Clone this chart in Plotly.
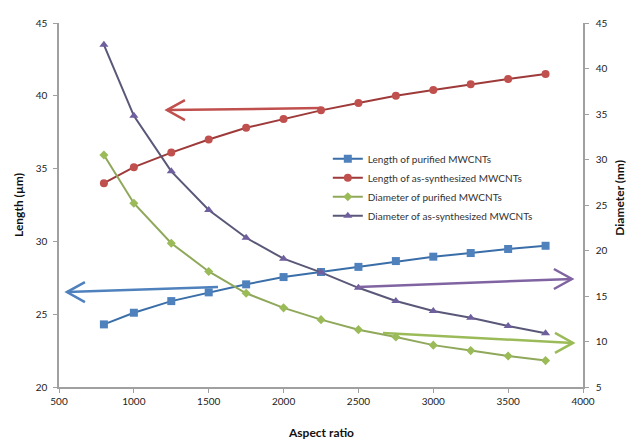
import plotly.graph_objects as go

aspect_ratio = [800, 1000, 1250, 1500, 1750, 2000, 2250, 2500, 2750, 3000, 3250, 3500, 3750]
len_purified = [24.3, 25.1, 25.9, 26.5, 27.05, 27.55, 27.9, 28.25, 28.65, 28.95, 29.2, 29.48, 29.7]
len_as_synth = [34.0, 35.1, 36.1, 37.0, 37.8, 38.4, 39.0, 39.5, 40.0, 40.4, 40.8, 41.15, 41.5]
dia_purified = [30.5, 25.2, 20.8, 17.7, 15.3, 13.7, 12.4, 11.3, 10.5, 9.6, 9.0, 8.4, 7.9]
dia_as_synth = [42.6, 34.8, 28.7, 24.45, 21.4, 19.1, 17.6, 15.9, 14.45, 13.35, 12.6, 11.7, 10.9]

names = ["Length of purified MWCNTs", "Length of as-synthesized MWCNTs",
         "Diameter of purified MWCNTs", "Diameter of as-synthesized MWCNTs"]

BLUE, RED, GREEN, PURPLE = "#4F81BD", "#C0504D", "#9BBB59", "#6F5F9E"
FONT = "Lato, 'Liberation Sans', sans-serif"

fig = go.Figure()
fig.add_trace(go.Scatter(x=aspect_ratio, y=len_purified, name=names[0], mode="lines+markers",
                         line=dict(color="#3A6EA8", width=2),
                         marker=dict(symbol="square", size=8, color=BLUE)))
fig.add_trace(go.Scatter(x=aspect_ratio, y=len_as_synth, name=names[1], mode="lines+markers",
                         line=dict(color="#9E3A3A", width=2),
                         marker=dict(symbol="circle", size=8, color=RED)))
fig.add_trace(go.Scatter(x=aspect_ratio, y=dia_purified, name=names[2], mode="lines+markers",
                         line=dict(color="#8FA85A", width=2),
                         marker=dict(symbol="diamond", size=7, color=GREEN), yaxis="y2"))
fig.add_trace(go.Scatter(x=aspect_ratio, y=dia_as_synth, name=names[3], mode="lines+markers",
                         line=dict(color="#5A5878", width=2),
                         marker=dict(symbol="triangle-up", size=8, color=PURPLE), yaxis="y2"))

# annotation arrows: (tail x, tail y, head x, head y, axis, color, direction)
arrows = [
    (2250, 39.16, 1221, 39.02, "y", "#C0504D", -1),
    (1562, 26.87, 553, 26.52, "y", "#4F81BD", -1),
    (2497, 16.0, 3926, 16.87, "y2", "#8064A2", 1),
    (2664, 10.93, 3933, 9.84, "y2", "#9BBB59", 1),
]
shapes = []
for tx, ty, hx, hy, yr, col, d in arrows:
    shapes.append(dict(type="line", xref="x", yref=yr, x0=tx, y0=ty, x1=hx, y1=hy,
                       line=dict(color=col, width=2.5)))
    L = 18 * (-d)
    shapes.append(dict(type="path", xref="x", yref=yr, xsizemode="pixel", ysizemode="pixel",
                       xanchor=hx, yanchor=hy,
                       path=f"M {L},10 L 0,0 L {L},-10",
                       line=dict(color=col, width=2.5)))

title_font = dict(family=FONT, size=12, color="#111111")
annotations = [
    dict(text="<b>Length (µm)</b>", xref="paper", yref="paper", x=0, y=0.5, xshift=-41,
         xanchor="center", yanchor="middle", textangle=-90, showarrow=False, font=title_font),
    dict(text="<b>Diameter (nm)</b>", xref="paper", yref="paper", x=1, y=0.52, xshift=37,
         xanchor="center", yanchor="middle", textangle=-90, showarrow=False, font=title_font),
    dict(text="<b>Aspect ratio</b>", xref="paper", yref="paper", x=0.5, y=0, yshift=-45,
         xanchor="center", yanchor="middle", showarrow=False, font=title_font),
]

axis_font = dict(family=FONT, size=10, color="#222222")
common = dict(showgrid=False, zeroline=False, showline=True, linecolor="#A0A0A0", linewidth=1.5,
              ticks="outside", tickcolor="#A0A0A0", ticklen=4, tickfont=axis_font, automargin=False)
fig.update_layout(
    width=630, height=433,
    margin=dict(l=51, r=55, t=15, b=54),
    plot_bgcolor="white", paper_bgcolor="white",
    font=dict(family=FONT, color="#222222"),
    shapes=shapes,
    annotations=annotations,
    showlegend=True,
    legend=dict(x=0.513, y=0.667, xanchor="left", yanchor="top",
                font=dict(family=FONT, size=10, color="#333333"),
                bgcolor="rgba(0,0,0,0)", itemwidth=30, tracegroupgap=0),
    xaxis=dict(range=[500, 4000], dtick=500, tick0=500, **common),
    yaxis=dict(range=[20, 45], dtick=5, ticklabelstandoff=4, **common),
    yaxis2=dict(range=[5, 45], dtick=5, overlaying="y", side="right", ticklabelstandoff=5, **common),
)

fig.write_html("out.html")
